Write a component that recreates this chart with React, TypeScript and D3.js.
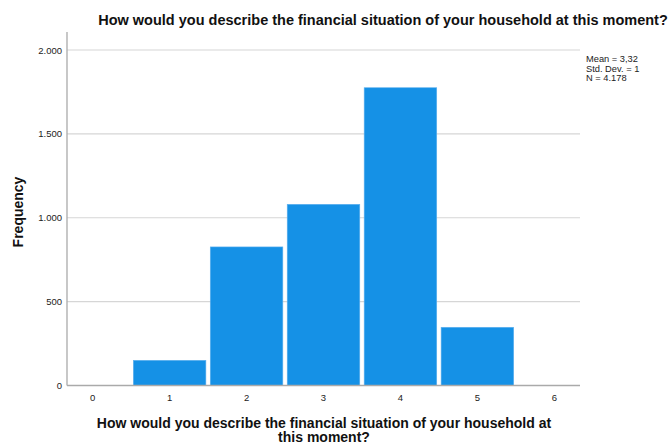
import React from "react";
import * as d3 from "d3";

const categories = [1, 2, 3, 4, 5];
const frequencies = [150, 826, 1080, 1775, 347];
const xTicks = [0, 1, 2, 3, 4, 5, 6];
const yTicks = [0, 500, 1000, 1500, 2000];
const titleText = "How would you describe the financial situation of your household at this moment?";
const xTitleLines = ["How would you describe the financial situation of your household at", "this moment?"];
const yTitle = "Frequency";
const statsLines = ["Mean = 3,32", "Std. Dev. = 1", "N = 4.178"];

const W = 670;
const H = 446;
const left = 67;
const right = 580;
const top = 32;
const bottom = 385.5;

export default function App() {
  const x = d3.scaleLinear().domain([-1 / 3, 6 + 1 / 3]).range([left, right]);
  const y = d3.scaleLinear().domain([0, 2000]).range([bottom, 50]);
  const fmt = (v: number) => d3.format(",")(v).replace(/,/g, ".");
  const font = "'Liberation Sans', Arial, sans-serif";
  return (
    <svg width={W} height={H} style={{ position: "absolute", left: 0, top: 0, background: "#fff" }} fontFamily={font}>
      <rect x={0} y={0} width={W} height={H} fill="#fff" />
      {yTicks.filter((t) => t > 0).map((t) => (
        <line key={t} x1={left} x2={right} y1={y(t)} y2={y(t)} stroke="#d6d6d6" strokeWidth={1.2} />
      ))}
      {categories.map((c, i) => (
        <rect
          key={c}
          x={x(c - 0.5) + 2.2}
          y={y(frequencies[i])}
          width={x(c + 0.5) - x(c - 0.5) - 4.4}
          height={bottom - y(frequencies[i])}
          fill="#1591e6"
          stroke="#5db0ee"
          strokeWidth={0.6}
        />
      ))}
      <line x1={left} x2={left} y1={top} y2={bottom} stroke="#aaaaaa" strokeWidth={1.3} />
      <line x1={left} x2={right} y1={bottom} y2={bottom} stroke="#aaaaaa" strokeWidth={1.3} />
      {yTicks.map((t) => (
        <text key={t} x={left - 5} y={y(t) + 3.5} textAnchor="end" fontSize={9.5} fill="#222">
          {fmt(t)}
        </text>
      ))}
      {xTicks.map((t) => (
        <text key={t} x={x(t)} y={401} textAnchor="middle" fontSize={9.5} fill="#222">
          {t}
        </text>
      ))}
      <text x={383} y={25} textAnchor="middle" fontSize={14.5} fontWeight="bold" fill="#111">
        {titleText}
      </text>
      {xTitleLines.map((l, i) => (
        <text key={i} x={324} y={427.5 + i * 14.5} textAnchor="middle" fontSize={14} fontWeight="bold" fill="#111">
          {l}
        </text>
      ))}
      <text
        transform={`translate(23, ${212}) rotate(-90)`}
        textAnchor="middle"
        fontSize={14}
        fontWeight="bold"
        fill="#111"
      >
        {yTitle}
      </text>
      {statsLines.map((l, i) => (
        <text key={i} x={586} y={62 + i * 9.5} fontSize={9.3} fill="#222">
          {l}
        </text>
      ))}
    </svg>
  );
}
